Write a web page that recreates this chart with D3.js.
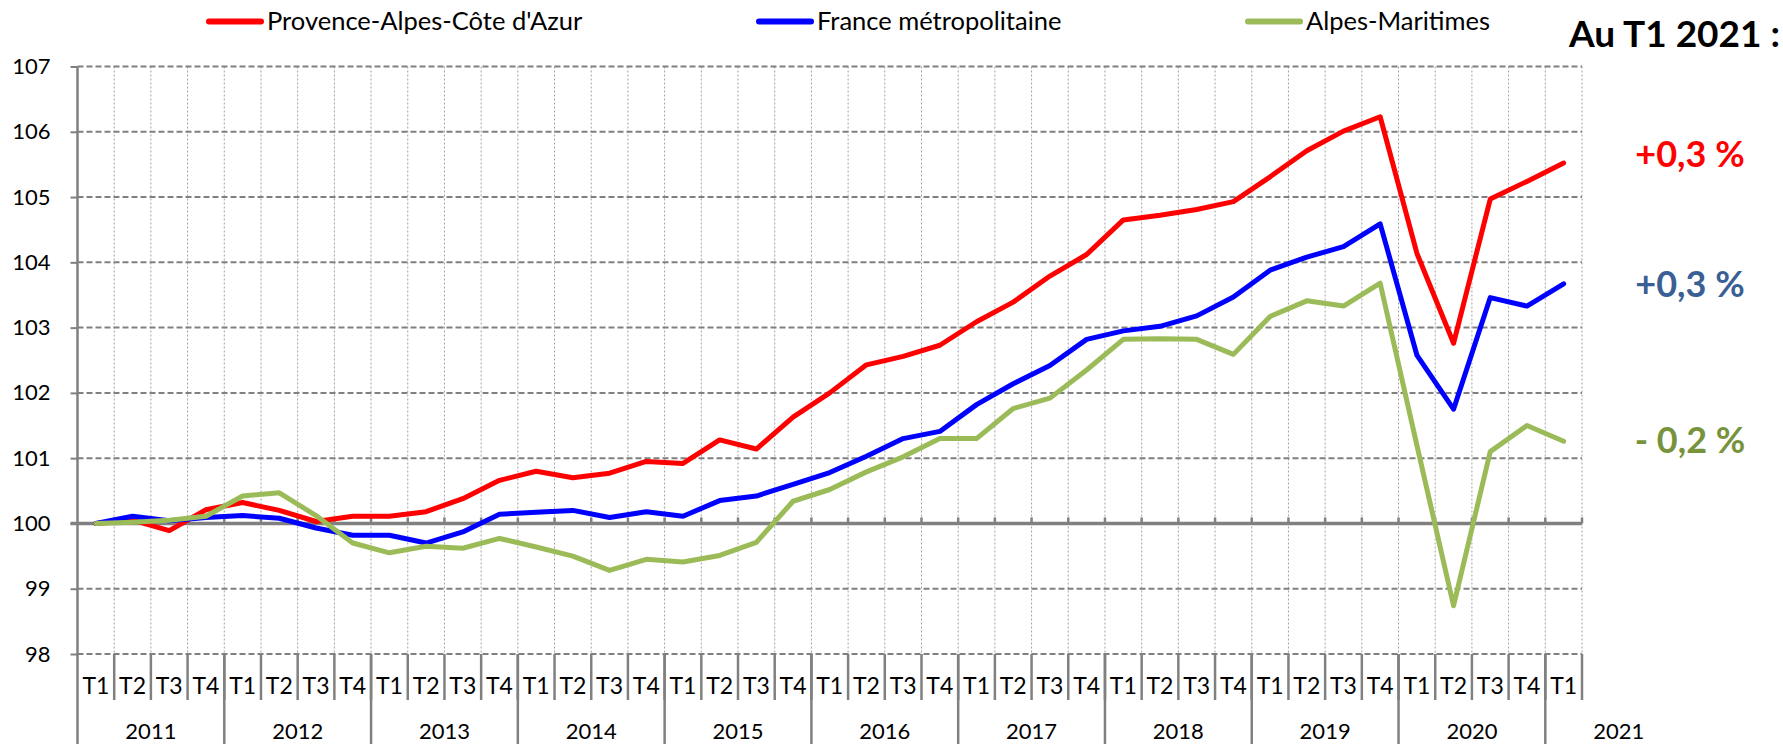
<!DOCTYPE html>
<html>
<head>
<meta charset="utf-8">
<script src="https://cdn.jsdelivr.net/npm/d3@7/dist/d3.min.js"></script>
<style>
  body { margin: 0; background: #fff; }
  svg { display: block; font-family: Lato, "Open Sans", sans-serif; }
</style>
</head>
<body>
<svg id="chart" width="1783" height="744"></svg>
<script>
// quarters 2011 T1 -> 2021 T1
const years = ["2011", "2012", "2013", "2014", "2015", "2016", "2017", "2018", "2019", "2020", "2021"];
const quarters = ["T1", "T2", "T3", "T4"];
const yTicks = [98, 99, 100, 101, 102, 103, 104, 105, 106, 107];

const paca = [
  100.00, 100.05, 99.89, 100.21, 100.32, 100.20, 100.03, 100.11, 100.11, 100.18,
  100.38, 100.66, 100.80, 100.70, 100.77, 100.95, 100.92, 101.28, 101.14, 101.63,
  102.00, 102.43, 102.56, 102.73, 103.09, 103.39, 103.79, 104.12, 104.65, 104.72,
  104.81, 104.93, 105.31, 105.71, 106.01, 106.23, 104.14, 102.76, 104.97, 105.24,
  105.52
];
const france = [
  100.00, 100.11, 100.04, 100.09, 100.12, 100.08, 99.93, 99.82, 99.82, 99.70,
  99.87, 100.14, 100.17, 100.20, 100.09, 100.18, 100.11, 100.35, 100.42, 100.60,
  100.78, 101.03, 101.30, 101.41, 101.82, 102.14, 102.42, 102.82, 102.95, 103.02,
  103.18, 103.47, 103.88, 104.08, 104.24, 104.59, 102.58, 101.75, 103.46, 103.33,
  103.67
];
const alpesMaritimes = [
  100.00, 100.02, 100.05, 100.11, 100.42, 100.47, 100.12, 99.70, 99.55, 99.65,
  99.62, 99.77, 99.64, 99.50, 99.28, 99.45, 99.41, 99.51, 99.71, 100.34,
  100.52, 100.79, 101.02, 101.30, 101.30, 101.76, 101.92, 102.35, 102.82, 102.83,
  102.82, 102.59, 103.17, 103.41, 103.33, 103.68, 101.20, 98.74, 101.10, 101.50,
  101.26
];

const seriesNames = ["Provence-Alpes-Côte d'Azur", "France métropolitaine", "Alpes-Maritimes"];
const seriesColors = ["#ff0000", "#0000ff", "#9bbb59"];
const evolutions = ["+0,3 %", "+0,3 %", "- 0,2 %"];
const evolutionColors = ["#ff0000", "#3a5f94", "#77933c"];
const headline = "Au T1 2021 :";

// build the period list (year + quarter) from the small arrays
const periods = [];
years.forEach(yr => quarters.forEach(q => periods.push({ year: yr, q: q })));
periods.length = paca.length;
const idx = d3.range(periods.length);

const svg = d3.select("#chart");
const plotLeft = 77.5, plotRight = 1582, plotTop = 66.5, plotBottom = 654;

const x = d3.scaleBand().domain(idx).range([plotLeft, plotRight]).padding(0);
const y = d3.scaleLinear().domain([98, 107]).range([plotBottom, plotTop]);
const bw = x.bandwidth();

// vertical grid (category boundaries)
svg.append("g")
  .selectAll("line")
  .data(idx)
  .join("line")
  .attr("x1", d => x(d) + bw)
  .attr("x2", d => x(d) + bw)
  .attr("y1", plotTop)
  .attr("y2", plotBottom)
  .attr("stroke", "#a0a0a0")
  .attr("stroke-width", 1)
  .attr("stroke-dasharray", "2,2");

// y axis (ticks + labels)
const yAxis = d3.axisLeft(y)
  .tickValues(yTicks)
  .tickSize(7)
  .tickPadding(20)
  .tickFormat(d3.format("d"));

const gy = svg.append("g")
  .attr("transform", `translate(${plotLeft},0)`)
  .call(yAxis);
gy.select(".domain").remove();
gy.selectAll(".tick line")
  .attr("stroke", "#808080")
  .attr("stroke-width", 2);
gy.selectAll(".tick text")
  .attr("font-size", 22)
  .attr("fill", "#000")
  .attr("font-family", "Lato, sans-serif");

// horizontal dashed grid
svg.append("g")
  .selectAll("line")
  .data(yTicks.filter(v => v !== 100))
  .join("line")
  .attr("x1", plotLeft)
  .attr("x2", plotRight)
  .attr("y1", d => y(d))
  .attr("y2", d => y(d))
  .attr("stroke", "#808080")
  .attr("stroke-width", 2)
  .attr("stroke-dasharray", "6,3");

// left axis line, down to the bottom of the year row
svg.append("line")
  .attr("x1", plotLeft).attr("x2", plotLeft)
  .attr("y1", plotTop).attr("y2", 744)
  .attr("stroke", "#808080")
  .attr("stroke-width", 2.5);

// axis at 100 with small ticks
svg.append("line")
  .attr("x1", plotLeft - 7).attr("x2", plotRight)
  .attr("y1", y(100)).attr("y2", y(100))
  .attr("stroke", "#808080")
  .attr("stroke-width", 3.5);
svg.append("g")
  .selectAll("line")
  .data(idx)
  .join("line")
  .attr("x1", d => x(d) + bw)
  .attr("x2", d => x(d) + bw)
  .attr("y1", y(100) - 6)
  .attr("y2", y(100))
  .attr("stroke", "#808080")
  .attr("stroke-width", 2.5);

// category axis: quarter row
const catRow = svg.append("g");
catRow.selectAll("line")
  .data(idx)
  .join("line")
  .attr("x1", d => x(d) + bw)
  .attr("x2", d => x(d) + bw)
  .attr("y1", plotBottom)
  .attr("y2", 700)
  .attr("stroke", "#808080")
  .attr("stroke-width", 2.5);
catRow.selectAll("text")
  .data(idx)
  .join("text")
  .attr("x", d => x(d) + bw / 2)
  .attr("y", 693.5)
  .attr("text-anchor", "middle")
  .attr("font-size", 23)
  .text(d => periods[d].q);

// year row
const yearStart = years.map(yr => periods.findIndex(p => p.year === yr));
const yearRow = svg.append("g");
yearRow.selectAll("line")
  .data(yearStart.filter(i => i > 0))
  .join("line")
  .attr("x1", i => x(i))
  .attr("x2", i => x(i))
  .attr("y1", plotBottom)
  .attr("y2", 744)
  .attr("stroke", "#808080")
  .attr("stroke-width", 2.5);
yearRow.selectAll("text")
  .data(years)
  .join("text")
  .attr("x", (yr, k) => x(yearStart[k]) + 2 * bw)
  .attr("y", 738.5)
  .attr("text-anchor", "middle")
  .attr("font-size", 22)
  .text(yr => yr);

// series lines
const line = d3.line()
  .x((v, i) => x(i) + bw / 2)
  .y(v => y(v));

const allSeries = [paca, france, alpesMaritimes];
svg.append("g")
  .selectAll("path")
  .data(allSeries)
  .join("path")
  .attr("d", line)
  .attr("fill", "none")
  .attr("stroke", (d, k) => seriesColors[k])
  .attr("stroke-width", 5)
  .attr("stroke-linejoin", "round")
  .attr("stroke-linecap", "round");

// legend
const legendX = [209, 759, 1248];
const legend = svg.append("g")
  .selectAll("g")
  .data(seriesNames)
  .join("g")
  .attr("transform", (d, k) => `translate(${legendX[k]},21.5)`);
legend.append("line")
  .attr("x1", 0).attr("x2", 52)
  .attr("stroke", (d, k) => seriesColors[k])
  .attr("stroke-width", 6)
  .attr("stroke-linecap", "round");
legend.append("text")
  .attr("x", 58)
  .attr("y", 8.5)
  .attr("font-size", 25.5)
  .text(d => d);

// headline + evolutions on the right
svg.append("text")
  .attr("x", 1780)
  .attr("y", 46.5)
  .attr("text-anchor", "end")
  .attr("font-size", 37)
  .attr("font-weight", "bold")
  .text(headline);

const evolutionY = [105.46, 103.47, 101.08];
svg.append("g")
  .selectAll("text")
  .data(evolutions)
  .join("text")
  .attr("x", 1690)
  .attr("y", (d, k) => y(evolutionY[k]))
  .attr("text-anchor", "middle")
  .attr("font-size", 36)
  .attr("font-weight", "bold")
  .attr("fill", (d, k) => evolutionColors[k])
  .text(d => d);
</script>
</body>
</html>
